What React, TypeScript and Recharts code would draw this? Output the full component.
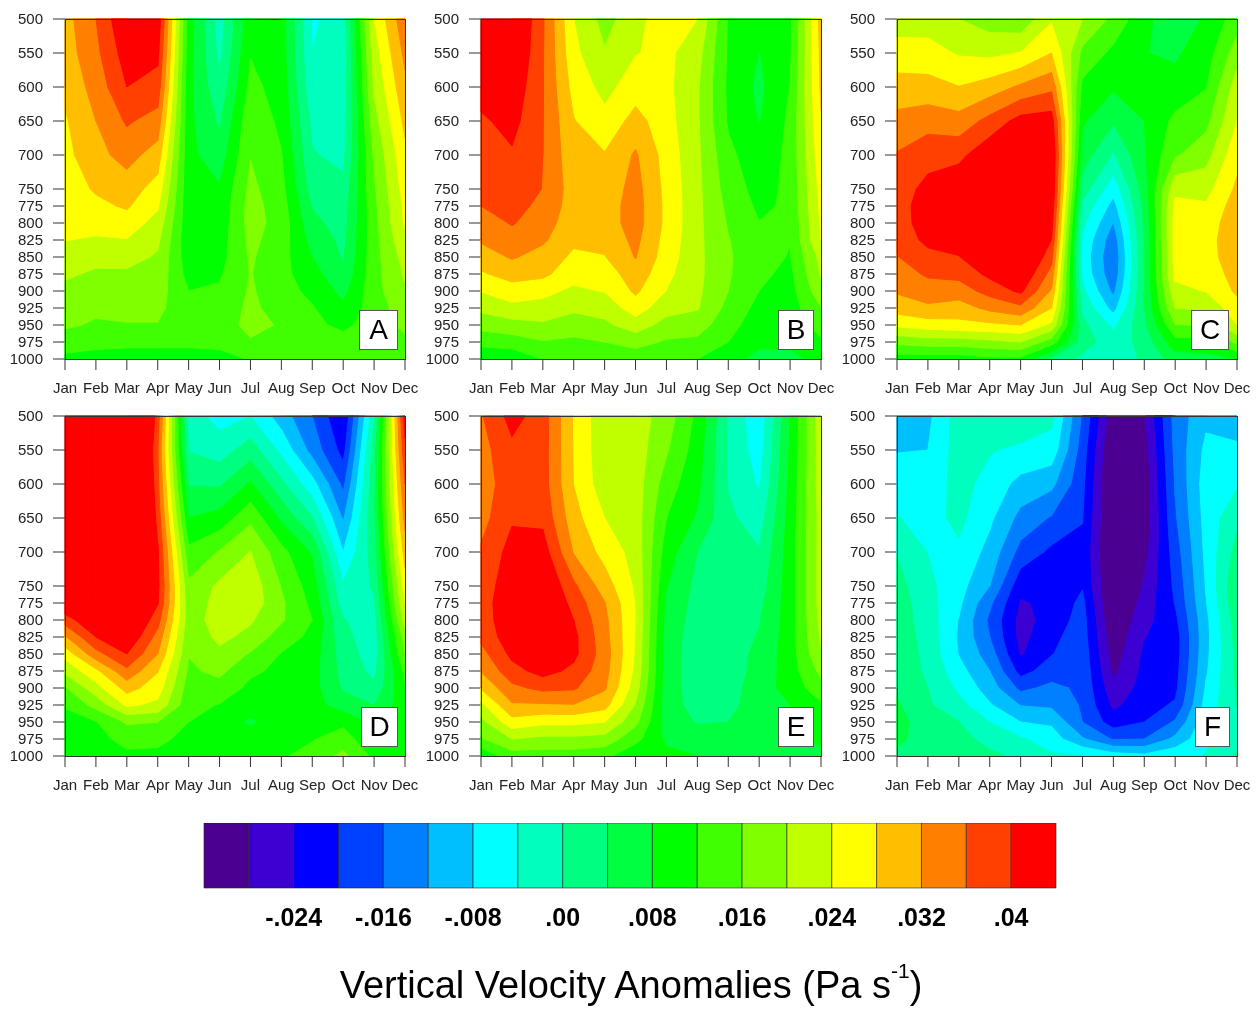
import { Bar, BarChart, Scatter, ScatterChart, XAxis, YAxis } from 'recharts';

const months = ['Jan', 'Feb', 'Mar', 'Apr', 'May', 'Jun', 'Jul', 'Aug', 'Sep', 'Oct', 'Nov', 'Dec'];
const levels = [500, 550, 600, 650, 700, 750, 775, 800, 825, 850, 875, 900, 925, 950, 975, 1000];

// anomalies in 0.001 Pa/s, one row per month, one column per level
const panelA = [
  [30.4, 30, 29, 27.5, 26.8, 25.8, 25, 24.5, 24.1, 22, 20.5, 19.2, 18, 16.6, 14, 11],
  [36, 35, 33.5, 32, 30.7, 28.5, 27, 25.5, 23.5, 21, 19.5, 18, 16.8, 15.5, 13.2, 10.5],
  [44, 42, 40, 36.5, 33.5, 30, 28.5, 26.2, 23.8, 21.5, 19.3, 18, 17, 15.8, 12.8, 10.5],
  [43, 41, 38.4, 34.4, 30.2, 26.3, 24.5, 22.5, 20.8, 19.5, 18.7, 17.8, 17, 15.8, 12.8, 10.5],
  [10, 9.5, 9, 9, 9, 9, 9, 9, 9, 9.5, 10.5, 12, 13, 13.5, 12.5, 11],
  [-2, -1, 1, 3.3, 5.7, 8.4, 9, 9.5, 10, 10.5, 11.5, 12.5, 13, 13.5, 12.8, 11],
  [10.5, 11.8, 13, 15, 15.8, 17, 17.5, 17.5, 17, 16.5, 16.2, 16.5, 17, 17.5, 15.5, 12.2],
  [10, 10, 10.5, 11, 12.2, 13.3, 14, 14.5, 14, 13.5, 13.3, 13.5, 14, 15.5, 14, 12.2],
  [-4.5, -4, -3, -1, 0.3, 2, 3.7, 5, 6.5, 8, 9.5, 11, 12.3, 13, 13, 12.5],
  [-2.5, -2.5, -2.5, -2, -1, 1, 1.7, 2.3, 3, 3.6, 4.8, 6.8, 8.8, 11, 13.5, 12.5],
  [24, 22, 20.5, 18.5, 16.5, 15.5, 15, 14.7, 14.5, 14.5, 14.5, 14.5, 14, 14, 14, 12.5],
  [35, 33, 31, 29, 27, 25.8, 25, 24.5, 23, 21.5, 20.5, 19.5, 18, 17, 15, 12],
];

const panelB = [
  [46, 44, 42, 39.3, 38, 37, 36, 34, 32.5, 30, 27.5, 24.2, 21, 17.5, 13, 9.5],
  [46, 45, 43, 41.4, 39.5, 38, 37.4, 36.3, 34.5, 32.4, 29.5, 26.3, 22.8, 18.5, 14, 9],
  [36.5, 36.3, 36.2, 36.1, 36, 35.9, 35, 34, 32.6, 30.5, 29, 25, 22.7, 19.3, 15.7, 12.2],
  [24, 25, 26.5, 28.2, 29.2, 30, 30, 29.5, 28.8, 27.2, 25.3, 23.3, 20.8, 17.9, 15.2, 12.5],
  [18.5, 20.3, 22.7, 25.2, 28.3, 29.5, 30, 30, 29.2, 27.8, 25.6, 24.2, 21.5, 19.2, 16, 13],
  [22.5, 23.8, 26, 29.5, 32.5, 33.5, 33.8, 33.8, 33, 32.2, 30.5, 28.7, 26, 22, 17.5, 13.5],
  [26.5, 25, 25, 25.5, 26.3, 26.8, 27, 27, 26.5, 26, 25, 23.9, 21.5, 18.5, 15.5, 12.8],
  [24, 21.5, 20.5, 20.5, 20.8, 21, 21, 21, 21, 21, 21, 20.8, 20.3, 18, 15, 12],
  [11.6, 11.5, 11.2, 11.5, 13, 14.2, 15, 15.6, 16.2, 16.5, 16.4, 16, 14.8, 13.3, 12, 10],
  [8.5, 7.9, 7, 7.8, 9.3, 10.5, 11.2, 12.1, 13, 13.2, 12.8, 12, 10.8, 10, 9, 6.5],
  [11, 11.4, 12.1, 12.8, 13, 12.9, 12.7, 12.4, 12.1, 11.8, 11, 10.5, 10, 9.5, 8.8, 7],
  [29.5, 29, 28.6, 27.7, 26.5, 25.5, 25, 24.5, 24, 21.3, 20.3, 18.5, 15.9, 13.5, 11.5, 9],
];

const panelC = [
  [22, 25.7, 29.6, 33.2, 36.3, 38, 38.5, 38.3, 37.5, 35.8, 34, 32.5, 29.7, 24.9, 17, 10],
  [22, 25.6, 29.4, 34.4, 38.5, 41.2, 41.8, 41.8, 41, 38.8, 36.6, 34, 31.3, 26, 18, 10],
  [20, 23.6, 28.1, 33.5, 38.9, 43, 44, 44, 42, 39.8, 37.2, 34, 30.2, 26.8, 18, 10],
  [18, 23, 29.8, 37.3, 43, 46, 47, 47, 46, 44, 41, 37.5, 33, 27.2, 19, 11],
  [17, 24.2, 32.7, 41.5, 47, 49, 50, 50, 49, 47, 44, 40.8, 35, 28, 20, 11],
  [23.5, 28, 35, 42, 44.5, 44, 43, 41.5, 39.9, 37.3, 34.5, 31.5, 28, 23, 14, 3],
  [20, 15, 11, 8.5, 6, 2, -1, -3, -4.8, -5.5, -5, -3, -1, 1, 2, -1],
  [15, 11, 8.5, 4.5, -0.5, -6.5, -9.5, -12.2, -14.5, -15.5, -15, -13, -9.5, -4.8, -2.5, -2],
  [9, 8.1, 8.5, 8, 7.5, 6, 5, 4.5, 4, 3.7, 3.7, 4, 4, 3, 1.5, 0.5],
  [5.5, 7.4, 9.3, 13, 15.5, 23, 25, 25.5, 25.5, 25.5, 25, 22.7, 20, 15.8, 10.5, 6],
  [8.5, 10, 11.8, 14.8, 18.5, 22.5, 24.5, 25.5, 26, 26, 25, 24.2, 20.8, 16.3, 10.5, 6.5],
  [14, 18, 22, 24, 26.7, 28.8, 30, 31, 31.5, 31, 30, 28.7, 26.5, 24, 17, 8],
];

const panelD = [
  [50, 50, 50, 50, 50, 48, 44, 38, 31.5, 25.5, 21, 15.5, 12.5, 10, 9.5, 9],
  [55, 55, 55, 55, 54, 52, 48, 44, 40, 34.5, 27, 22.4, 17.3, 11.8, 10.5, 10],
  [60, 60, 60, 60, 58, 55, 52, 47, 44, 40, 35, 29.5, 24.7, 16.5, 13.5, 11],
  [38, 36, 37, 38.5, 40.5, 41, 40.3, 37.5, 34.5, 32, 28.2, 26, 23, 16, 13.2, 10.8],
  [-2, -0.2, 3.7, 8, 13, 16.8, 17.5, 17.8, 17, 16.2, 15.3, 14, 13.2, 12, 10.5, 10.5],
  [-5.5, -2, 3.4, 9.5, 16.3, 20.8, 21.5, 22, 21, 19, 17, 14.5, 11.8, 9.5, 10, 10.5],
  [-4, 2, 8.5, 15, 20.1, 22.5, 22.5, 20.5, 18.8, 15.6, 12.8, 11, 9.5, 7.5, 9.5, 11],
  [-10, -5, 1, 7.2, 13.3, 15.8, 16.7, 16.5, 14, 11.8, 11, 10.5, 10, 9.5, 10, 11.5],
  [-16, -13.5, -6.5, 0.2, 7.5, 10, 11, 12, 11, 10, 9.5, 9.5, 9.5, 10, 11.7, 13.5],
  [-24, -21.5, -17, -12.5, -8, -3.5, -2, 0.2, 1, 2, 2.6, 3.5, 6, 11, 14, 17],
  [-1, 2, 3, 3.2, 2, 0.5, -0.5, -1.5, -2, -2, -1, 1, 3.9, 7, 8.5, 11],
  [42, 39, 36, 33.3, 29.8, 25.9, 24, 21.5, 18, 16, 13, 11.5, 10.5, 10, 10, 10],
];

const panelE = [
  [35.6, 34.5, 33.5, 34.5, 36.5, 37.3, 37.5, 37.5, 37, 34.5, 32.2, 28.5, 23, 18.8, 15.5, 9],
  [41.5, 39, 38.8, 39.5, 41.5, 43, 44, 43.5, 42.5, 41, 38.5, 35, 31.5, 26.5, 20, 14],
  [38, 37.8, 37.8, 39, 42, 44.5, 45.5, 46, 45, 43.5, 41.5, 37, 31.5, 25, 19, 14],
  [27.5, 27.7, 27.9, 29.5, 31.7, 36.8, 38.5, 40, 41, 41, 39, 36.5, 31.8, 25, 19, 14],
  [21, 21, 21.5, 24, 26.5, 30, 32.2, 33, 33.5, 34, 33.5, 32.5, 29.5, 24, 18.5, 13],
  [22, 22, 22, 22, 22.5, 23.3, 23.8, 23.9, 23.7, 23.5, 23, 21.8, 19.7, 17, 13.2, 9],
  [18, 16.5, 14, 12, 10, 8.2, 7.2, 6.5, 6, 5.8, 5.8, 5.7, 5.8, 6, 7.2, 9],
  [11, 10, 9, 7.5, 4, 2.8, 2.5, 2.2, 2, 2, 2, 2, 2.5, 3.7, 6, 8],
  [-0.5, -0.5, -0.3, 0.8, 1.5, 1.5, 1.5, 1.7, 2, 2, 2, 2.3, 2.8, 4, 5.8, 7],
  [-7, -6, -4.5, -2, 0.3, 2, 3, 3.7, 4.3, 5, 5.3, 6, 6, 6.5, 7.2, 7.8],
  [8, 8.5, 9, 9.5, 10, 10, 10, 10, 10, 10, 10, 9.5, 8, 7.5, 7, 7.5],
  [22.5, 22, 22, 21.5, 21.5, 21.5, 21.5, 21, 20.5, 19.5, 17, 14.5, 11.5, 9.5, 8.5, 7.5],
];

const panelF = [
  [-9.5, -8.2, -6, -3.8, -0.2, 1.5, 2, 2.2, 2.5, 2.8, 3, 3.4, 4.5, 6, 5, 3],
  [-9, -8, -6.5, -5.5, -4.1, -3, -2.5, -2, -1.6, -1.2, -0.8, 0, 0.5, 1, 2, 2.5],
  [-2, -2.2, -2.5, -3, -4.7, -6.5, -7.2, -8.2, -8.5, -8.2, -6.5, -4.8, -2.5, 0.1, 1.5, 2],
  [-2, -3.7, -5.5, -7.2, -9.4, -12, -15.2, -16.8, -16, -14, -12, -10, -7.6, -4, -1.5, 1],
  [-1, -4.8, -9.3, -13.3, -17.4, -22.8, -24.5, -25.5, -25.5, -24.5, -21.5, -17, -12.2, -8, -3.5, -1],
  [-3, -5.6, -11, -16.4, -20.9, -22.5, -23, -22.5, -21, -20.2, -18, -15, -12.8, -8.7, -6, -3.5],
  [-16.5, -18, -19, -19.8, -21, -20.3, -19, -18.3, -18, -17.5, -17, -16.8, -16.5, -16, -11.5, -4],
  [-31, -33, -34, -34, -34, -33.5, -33, -32, -31, -30, -28.8, -27, -25, -22, -16.5, -6],
  [-28.5, -30, -31, -31, -29.5, -27.5, -26.5, -25.5, -24.2, -23.5, -23, -22.5, -21.5, -20, -16, -7],
  [-14.5, -15, -15.7, -16.5, -18, -19.2, -19.8, -21, -22, -22, -21.5, -21, -19.5, -15.5, -11, -5],
  [-9, -7, -6, -6.5, -7, -7.7, -8.2, -9, -9.2, -9, -8.5, -7.5, -6.5, -5.5, -4.8, -3.8],
  [-9.5, -7.5, -4.5, -1, 1.5, 3.5, 3, 2, 1.5, 1, 0.8, 0.5, 0.2, -1, -1, 0.5],
];

const bandColors = [
  '#4b0092', '#3c00d2', '#0000ff', '#0040ff', '#0080ff', '#00bfff', '#00ffff', '#00ffbf', '#00ff80', '#00ff40',
  '#00ff00', '#40ff00', '#80ff00', '#bfff00', '#ffff00', '#ffbf00', '#ff8000', '#ff4000', '#ff0000',
];
// lower edge of bandColors[1], bandColors[2], ...
const thresholds = [-28, -24, -20, -16, -12, -8, -4, 0, 4, 8, 12, 16, 20, 24, 28, 32, 36, 40];
const colorbarTicks = [-24, -16, -8, 0, 8, 16, 24, 32, 40];
const colorbarLabels = ['-.024', '-.016', '-.008', '.00', '.008', '.016', '.024', '.032', '.04'];

const FONT = '"Liberation Sans", Arial, sans-serif';
const PLOT = 340;
const AXIS_LEFT = 60;
const AXIS_RIGHT = 15;
const AXIS_TOP = 15;
const AXIS_BOTTOM = 45;

const panels = [
  { name: 'A', grid: panelA, left: 65, top: 19, boxLeft: 359, boxWidth: 37 },
  { name: 'B', grid: panelB, left: 481, top: 19, boxLeft: 778, boxWidth: 34 },
  { name: 'C', grid: panelC, left: 897, top: 19, boxLeft: 1191, boxWidth: 36 },
  { name: 'D', grid: panelD, left: 65, top: 416, boxLeft: 361, boxWidth: 35 },
  { name: 'E', grid: panelE, left: 481, top: 416, boxLeft: 778, boxWidth: 34 },
  { name: 'F', grid: panelF, left: 897, top: 416, boxLeft: 1195, boxWidth: 33 },
];

type Corner = { x: number; y: number; v: number };

function clipAbove(poly: Corner[], t: number) {
  const out: Corner[] = [];
  poly.forEach((a, i) => {
    const b = poly[(i + 1) % poly.length];
    if (a.v >= t) out.push(a);
    if (a.v >= t !== b.v >= t) {
      const f = (t - a.v) / (b.v - a.v);
      out.push({ x: a.x + (b.x - a.x) * f, y: a.y + (b.y - a.y) * f, v: t });
    }
  });
  return out;
}

// the part of one grid cell at or above one contour level; the cell's top left corner is the scatter point
function ContourCell(props: any) {
  const { cx, cy, payload } = props;
  const w = PLOT / 11;
  const h = (payload.nextLevel - payload.level) * (PLOT / 500);
  const quad: Corner[] = [
    { x: cx, y: cy, v: payload.tl },
    { x: cx + w, y: cy, v: payload.tr },
    { x: cx + w, y: cy + h, v: payload.br },
    { x: cx, y: cy + h, v: payload.bl },
  ];
  const poly = payload.band === 0 ? quad : clipAbove(quad, thresholds[payload.band - 1]);
  if (poly.length < 3) return <g />;
  const color = bandColors[payload.band];
  return (
    <polygon
      points={poly.map((p) => `${p.x},${p.y}`).join(' ')}
      fill={color}
      stroke={color}
      strokeWidth={1}
      strokeLinejoin="round"
    />
  );
}

// painted band by band, low to high, so each band covers the seams of the ones under it
function toCells(grid: number[][]) {
  const cells = [];
  for (let band = 0; band < bandColors.length; band++) {
    const lower = band === 0 ? -Infinity : thresholds[band - 1];
    const upper = band === thresholds.length ? Infinity : thresholds[band];
    for (let m = 0; m < months.length - 1; m++) {
      for (let l = 0; l < levels.length - 1; l++) {
        const corners = [grid[m][l], grid[m + 1][l], grid[m + 1][l + 1], grid[m][l + 1]];
        if (Math.max(...corners) < lower || Math.min(...corners) >= upper) continue;
        cells.push({
          band,
          month: m,
          level: levels[l],
          nextLevel: levels[l + 1],
          tl: corners[0],
          tr: corners[1],
          br: corners[2],
          bl: corners[3],
        });
      }
    }
  }
  return cells;
}

const monthTicks = months.map((_, i) => i);
const tickStyle = { fill: '#222', fontSize: 15, fontFamily: FONT };
const axisLine = { stroke: '#333', strokeWidth: 1 };
const noLabel = () => <g />;

function Panel({ name, grid, left, top, boxLeft, boxWidth }: (typeof panels)[number]) {
  return (
    <>
      <div style={{ position: 'absolute', left: left - AXIS_LEFT, top: top - AXIS_TOP }}>
        <ScatterChart
          width={AXIS_LEFT + PLOT + AXIS_RIGHT}
          height={AXIS_TOP + PLOT + AXIS_BOTTOM}
          margin={{ top: 0, right: 0, bottom: 0, left: 0 }}
        >
          <Scatter data={toCells(grid)} shape={ContourCell} isAnimationActive={false} xAxisId="bottom" yAxisId="left" />
          <XAxis
            xAxisId="bottom"
            type="number"
            dataKey="month"
            domain={[0, 11]}
            ticks={monthTicks}
            interval={0}
            height={AXIS_BOTTOM}
            tickSize={11}
            tickMargin={12}
            tick={tickStyle}
            tickLine={axisLine}
            axisLine={axisLine}
            tickFormatter={(m: number) => months[m]}
          />
          <XAxis
            xAxisId="top"
            orientation="top"
            type="number"
            domain={[0, 11]}
            ticks={monthTicks}
            interval={0}
            height={AXIS_TOP}
            tickSize={11}
            tick={noLabel}
            tickLine={axisLine}
            axisLine={axisLine}
          />
          <YAxis
            yAxisId="left"
            type="number"
            dataKey="level"
            domain={[500, 1000]}
            reversed
            ticks={levels}
            interval={0}
            width={AXIS_LEFT}
            tickSize={12}
            tickMargin={10}
            tick={tickStyle}
            tickLine={axisLine}
            axisLine={axisLine}
          />
          <YAxis
            yAxisId="right"
            orientation="right"
            type="number"
            domain={[500, 1000]}
            reversed
            ticks={levels}
            interval={0}
            width={AXIS_RIGHT}
            tickSize={12}
            tick={noLabel}
            tickLine={axisLine}
            axisLine={axisLine}
          />
        </ScatterChart>
      </div>
      <div
        style={{
          position: 'absolute',
          left,
          top,
          width: PLOT - 1,
          height: PLOT - 1,
          border: '1px solid #333',
        }}
      />
      <div
        style={{
          position: 'absolute',
          left: boxLeft,
          top: top + 291,
          width: boxWidth,
          height: 38,
          lineHeight: '38px',
          border: '1px solid #555',
          background: '#fff',
          textAlign: 'center',
          fontFamily: FONT,
          fontSize: 28,
          color: '#000',
        }}
      >
        {name}
      </div>
    </>
  );
}

const colorbarRow = [Object.fromEntries(bandColors.map((_, i) => [`band${i}`, 4]))];

function Colorbar() {
  return (
    <div style={{ position: 'absolute', left: 190, top: 823 }}>
      <BarChart
        layout="vertical"
        width={880}
        height={115}
        data={colorbarRow}
        barCategoryGap={0}
        margin={{ top: 0, right: 14, bottom: 0, left: 14 }}
      >
        <XAxis
          type="number"
          domain={[0, 76]}
          ticks={colorbarTicks.map((t) => t + 32)}
          interval={0}
          height={50}
          axisLine={false}
          tickLine={false}
          tickMargin={14}
          tick={{ fill: '#000', fontSize: 25, fontWeight: 700, fontFamily: FONT }}
          tickFormatter={(_: number, i: number) => colorbarLabels[i]}
        />
        <YAxis type="category" hide />
        {bandColors.map((c, i) => (
          <Bar key={c} dataKey={`band${i}`} stackId="bar" fill={c} stroke="#222" strokeWidth={0.6} isAnimationActive={false} />
        ))}
      </BarChart>
    </div>
  );
}

export default function App() {
  return (
    <div
      style={{
        position: 'absolute',
        left: 0,
        top: 0,
        width: 1259,
        height: 1015,
        background: '#fff',
        overflow: 'hidden',
        filter: 'blur(0.4px)',
      }}
    >
      {panels.map((p) => (
        <Panel key={p.name} {...p} />
      ))}
      <Colorbar />
      <div
        style={{
          position: 'absolute',
          left: 0,
          width: 1262,
          top: 960,
          textAlign: 'center',
          fontFamily: FONT,
          fontSize: 38,
          lineHeight: '50px',
          color: '#000',
        }}
      >
        Vertical Velocity Anomalies (Pa s
        <sup style={{ fontSize: 21, lineHeight: 0, verticalAlign: 20 }}>-1</sup>)
      </div>
    </div>
  );
}
